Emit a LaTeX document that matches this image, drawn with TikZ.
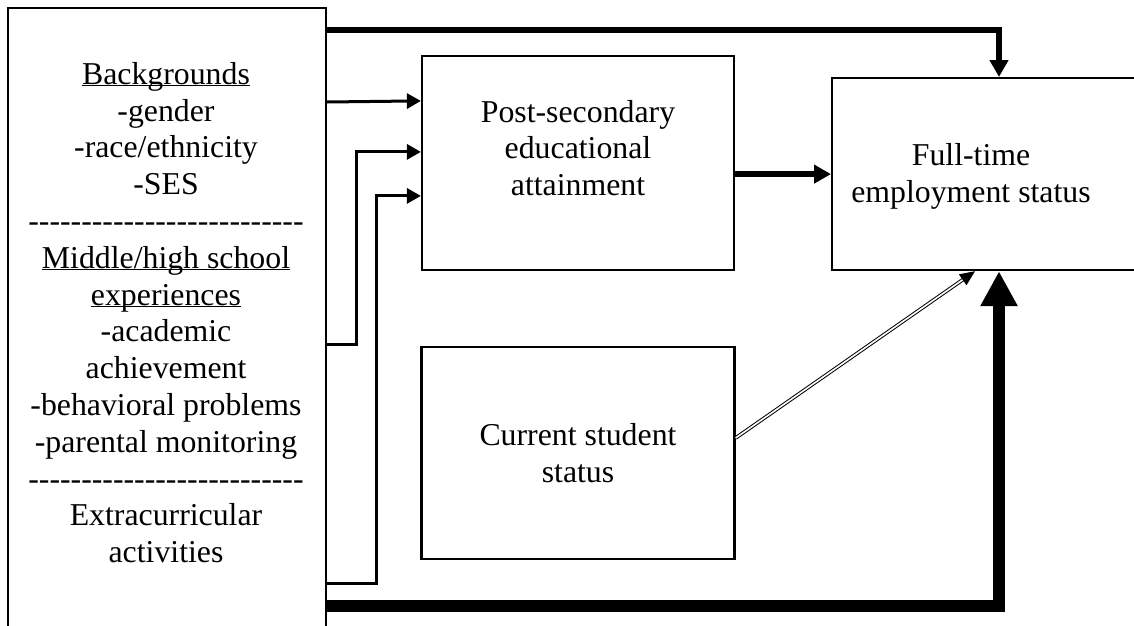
\documentclass[tikz,border=0pt]{standalone}
\usepackage{fontspec}
\setmainfont{Liberation Serif}
\usetikzlibrary{arrows.meta}

\newcount\dashcnt
\newcommand{\dashrow}{\dashcnt=0 \loop-\kern0pt\advance\dashcnt by 1 \ifnum\dashcnt<26 \repeat}
\newcommand{\uword}[1]{\underline{\smash{#1}}}

\begin{document}
\begin{tikzpicture}[x=1pt, y=-1pt, font=\fontsize{31.8}{36.8}\selectfont]
    \tikzstyle{box}=[draw, line width=2.2pt, rectangle, inner sep=0pt, align=center]
    \tikzstyle{link}=[line width=3pt, -{Triangle[length=14pt,width=15pt]}]
    \tikzstyle{bold}=[line width=6pt, -{Triangle[length=17pt,width=18pt]}]
    \tikzstyle{heavy}=[line width=12pt, -{Triangle[length=35pt,width=35pt]}]
    \tikzstyle{twin}=[double, double distance=1.6pt, line width=1pt, -{Triangle[length=15pt,width=13pt]}]
    \useasboundingbox (0,0) rectangle (1134,625);
    \node[draw, line width=1.5pt, anchor=north west, minimum width=318pt, minimum height=640pt] (factors) at (7,7) {};
    \node[anchor=north, align=center, inner sep=0pt] (factorlist) at (166,84) {\uword{Backgrounds}\\-gender\\-race/ethnicity\\-SES\\\dashrow\\\uword{Middle/high school}\\\uword{experiences}\\-academic\\achievement\\-behavioral problems\\-parental monitoring\\\dashrow\\Extracurricular\\activities};
    \node[box, minimum width=312pt, minimum height=214pt] (post) at (578,163) {};
    \node[align=center] (posttext) at (578,148) {Post-secondary\\educational\\attainment};
    \node[box, minimum width=313pt, minimum height=212pt] (current) at (578,453) {Current student\\status};
    \node[box, anchor=north west, minimum width=340pt, minimum height=192pt] (fulltime) at (831,77) {};
    \node[align=center] (fulltimetext) at (971,176) {Full-time\\employment status};
    \draw[bold] ([yshift=-23pt]factors.north east) -| ([xshift=168pt]fulltime.north west);
    \draw[link] ([yshift=-95pt]factors.north east) -- ([yshift=-46pt]post.north west);
    \draw[link] ([yshift=-337pt]factors.north east) -- ++(30,0) |- ([yshift=-97pt]post.north west);
    \draw[link] ([yshift=-576pt]factors.north east) -- ++(50,0) |- ([yshift=-141pt]post.north west);
    \draw[bold] (post.east |- fulltime.west) -- (fulltime.west);
    \draw[twin] ([yshift=15pt]current.east) -- ([xshift=144pt]fulltime.south west);
    \draw[heavy] ([yshift=-599pt]factors.north east) -| ([xshift=168pt]fulltime.south west);
\end{tikzpicture}
\end{document}
